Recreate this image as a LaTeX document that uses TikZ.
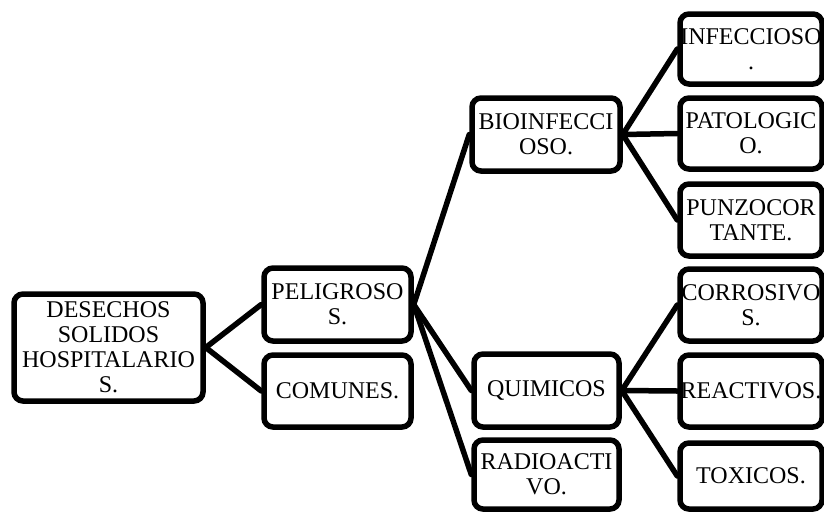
\documentclass[tikz,border=0pt]{standalone}
\usepackage{fontspec}
\setmainfont{Liberation Serif}
\newcommand\mbline[1]{\makebox[\linewidth][c]{#1}}
\begin{document}
\begin{tikzpicture}[x=1pt,y=-1pt,
  box/.style={draw, line width=5.5pt, rounded corners=9pt, align=center, inner sep=0pt,
    text width=120pt, font=\fontsize{24}{25}\selectfont, fill=white},
  link/.style={line width=5.5pt, line cap=round}]
\useasboundingbox (0,0) rectangle (824,512);
\node[box, minimum width=189pt, minimum height=107pt] (des) at (108.5,347.5) {\mbline{DESECHOS}\\\mbline{SOLIDOS}\\\mbline{HOSPITALARIO}\\\mbline{S.}};
\node[box, minimum width=147pt, minimum height=73pt] (pel) at (337.5,304.5) {\mbline{PELIGROSO}\\\mbline{S.}};
\node[box, minimum width=147pt, minimum height=72pt] (com) at (337.5,391) {\mbline{COMUNES.}};
\node[box, minimum width=148pt, minimum height=73pt] (bio) at (546,134.5) {\mbline{BIOINFECCI}\\\mbline{OSO.}};
\node[box, minimum width=145pt, minimum height=73pt] (qui) at (546.5,390.5) {\mbline{QUIMICOS}};
\node[box, minimum width=145pt, minimum height=69pt] (rad) at (546.5,474.5) {\mbline{RADIOACTI}\\\mbline{VO.}};
\node[box, minimum width=142pt, minimum height=70pt] (inf) at (751,49) {\mbline{INFECCIOSO}\\\mbline{.}};
\node[box, minimum width=142pt, minimum height=71pt] (pat) at (751,133.5) {\mbline{PATOLOGIC}\\\mbline{O.}};
\node[box, minimum width=142pt, minimum height=72pt] (pun) at (751,220) {\mbline{PUNZOCOR}\\\mbline{TANTE.}};
\node[box, minimum width=142pt, minimum height=72pt] (cor) at (751,305) {\mbline{CORROSIVO}\\\mbline{S.}};
\node[box, minimum width=142pt, minimum height=72pt] (rea) at (751,391) {\mbline{REACTIVOS.}};
\node[box, minimum width=142pt, minimum height=66pt] (tox) at (751,476) {\mbline{TOXICOS.}};
\draw[link] (des.east) -- (pel.west);
\draw[link] (des.east) -- (com.west);
\draw[link] (pel.east) -- (bio.west);
\draw[link] (pel.east) -- (qui.west);
\draw[link] (pel.east) -- (rad.west);
\draw[link] (bio.east) -- (inf.west);
\draw[link] (bio.east) -- (pat.west);
\draw[link] (bio.east) -- (pun.west);
\draw[link] (qui.east) -- (cor.west);
\draw[link] (qui.east) -- (rea.west);
\draw[link] (qui.east) -- (tox.west);
\end{tikzpicture}
\end{document}
